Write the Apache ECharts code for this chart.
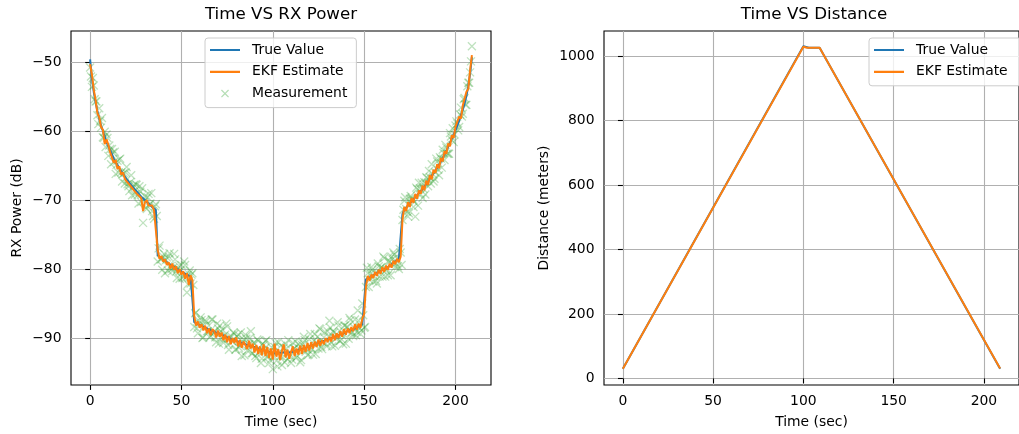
<!DOCTYPE html>
<html><head><meta charset="utf-8">
<script src="https://cdn.jsdelivr.net/npm/echarts@6/dist/echarts.min.js"></script>
<style>html,body{margin:0;padding:0;background:#fff}#c{width:1019px;height:434px}</style>
</head><body><div id="c"></div>
<script>
// ---- data ----
const time = [0,1,2,3,4,5,6,7,8,9,10,11,12,13,14,15,16,17,18,19,20,21,22,23,24,25,26,27,28,29,30,31,32,33,34,35,36,37,38,39,40,41,42,43,44,45,46,47,48,49,50,51,52,53,54,55,56,57,58,59,60,61,62,63,64,65,66,67,68,69,70,71,72,73,74,75,76,77,78,79,80,81,82,83,84,85,86,87,88,89,90,91,92,93,94,95,96,97,98,99,100,101,102,103,104,105,106,107,108,109,110,111,112,113,114,115,116,117,118,119,120,121,122,123,124,125,126,127,128,129,130,131,132,133,134,135,136,137,138,139,140,141,142,143,144,145,146,147,148,149,150,151,152,153,154,155,156,157,158,159,160,161,162,163,164,165,166,167,168,169,170,171,172,173,174,175,176,177,178,179,180,181,182,183,184,185,186,187,188,189,190,191,192,193,194,195,196,197,198,199,200,201,202,203,204,205,206,207,208,209];

const rxTrue = [-49.6,-52.4,-54.3,-55.8,-57.1,-58.2,-59.2,-60.0,-60.8,-61.6,
-62.2,-62.8,-63.4,-64.0,-64.5,-64.9,-65.4,-65.8,-66.2,-66.6,
-67.0,-67.3,-67.7,-68.0,-68.3,-68.6,-68.9,-69.2,-69.5,-69.7,
-70.0,-70.2,-70.5,-70.7,-71.0,-71.2,-71.4,-78.0,-78.2,-78.4,
-78.6,-78.8,-79.0,-79.2,-79.3,-79.5,-79.7,-79.9,-80.0,-80.2,
-80.3,-80.5,-80.7,-80.8,-81.0,-81.1,-81.2,-87.7,-87.8,-88.0,
-88.1,-88.2,-88.3,-88.5,-88.6,-88.7,-88.8,-89.0,-89.1,-89.2,
-89.3,-89.4,-89.5,-89.6,-89.8,-89.9,-90.0,-90.1,-90.2,-90.3,
-90.4,-90.5,-90.6,-90.7,-90.8,-90.9,-91.0,-91.1,-91.2,-91.2,
-91.3,-91.4,-91.5,-91.6,-91.7,-91.8,-91.9,-91.9,-92.0,-92.1,
-92.2,-92.2,-92.2,-92.2,-92.2,-92.1,-92.1,-92.1,-92.1,-92.1,
-92.1,-92.0,-91.9,-91.8,-91.7,-91.6,-91.6,-91.5,-91.4,-91.3,
-91.2,-91.1,-91.0,-90.9,-90.8,-90.7,-90.6,-90.5,-90.4,-90.3,
-90.2,-90.1,-90.0,-89.9,-89.8,-89.7,-89.6,-89.5,-89.4,-89.3,
-89.2,-89.0,-88.9,-88.8,-88.7,-88.6,-88.4,-88.3,-88.2,-88.0,
-87.9,-81.5,-81.3,-81.2,-81.1,-80.9,-80.8,-80.6,-80.5,-80.3,
-80.1,-80.0,-79.8,-79.7,-79.5,-79.3,-79.1,-78.9,-78.8,-78.6,
-78.4,-72.0,-71.4,-71.1,-70.8,-70.5,-70.2,-69.9,-69.6,-69.3,
-69.0,-68.7,-68.4,-68.0,-67.7,-67.3,-66.9,-66.5,-66.1,-65.7,
-65.3,-64.9,-64.4,-63.9,-63.4,-62.9,-62.3,-61.7,-61.1,-60.5,
-59.9,-59.2,-58.5,-57.7,-56.9,-56.0,-54.9,-53.5,-51.7,-49.3];

const rxEkf = [-50.3,-51.8,-54.0,-55.5,-57.4,-58.0,-59.4,-59.8,-61.9,-61.2,
-62.0,-63.1,-63.2,-64.6,-64.2,-65.5,-65.1,-66.3,-66.0,-66.9,
-67.3,-67.1,-67.9,-67.8,-68.6,-68.4,-69.2,-69.0,-69.7,-71.6,
-70.3,-70.0,-70.8,-71.0,-70.8,-71.5,-71.3,-77.2,-78.5,-78.1,
-78.9,-78.6,-79.4,-79.0,-79.9,-79.2,-80.1,-79.6,-80.6,-80.0,
-80.8,-80.3,-81.4,-80.6,-82.3,-80.9,-81.6,-86.8,-88.2,-87.6,
-88.5,-88.0,-88.9,-88.2,-89.3,-88.6,-89.6,-88.7,-89.0,-89.9,
-88.9,-89.8,-89.2,-90.3,-89.5,-90.6,-89.7,-90.9,-90.0,-90.7,
-89.9,-91.2,-90.3,-91.4,-90.5,-91.0,-91.6,-90.4,-91.5,-90.8,
-92.1,-91.0,-92.3,-91.2,-92.5,-90.9,-92.6,-91.3,-92.9,-91.5,
-93.1,-90.8,-92.7,-91.6,-93.2,-91.9,-90.9,-92.8,-91.7,-93.0,
-92.0,-91.2,-92.6,-91.5,-92.4,-91.1,-92.3,-91.0,-92.0,-90.7,
-91.8,-90.6,-91.5,-90.5,-91.3,-90.2,-91.1,-90.3,-90.9,-90.0,
-90.6,-89.8,-90.5,-89.4,-90.3,-89.3,-90.0,-89.0,-89.8,-88.7,
-89.5,-88.6,-89.3,-88.4,-89.0,-88.0,-88.8,-87.9,-88.5,-87.2,
-86.5,-82.5,-81.0,-81.7,-80.8,-81.3,-80.4,-81.0,-80.1,-80.7,
-79.7,-80.4,-79.5,-80.1,-79.2,-79.8,-78.8,-79.3,-78.5,-79.0,
-78.2,-72.8,-71.0,-71.6,-70.3,-71.0,-69.7,-70.4,-69.1,-69.8,
-68.6,-69.1,-67.9,-68.6,-67.2,-67.8,-66.4,-67.0,-65.6,-66.1,
-64.8,-65.4,-63.9,-64.4,-62.9,-63.3,-61.8,-62.2,-60.6,-61.0,
-59.4,-59.6,-57.9,-58.2,-56.3,-56.4,-54.3,-53.9,-51.2,-49.0];

// measurements taken on the whole seconds
const rxMeas = [-50.8,-53.6,-53.4,-55.7,-57.7,-56.7,-59.5,-60.9,-60.1,-60.5,
-63.6,-62.6,-62.6,-64.5,-66.2,-64.3,-64.1,-66.0,-66.2,-67.6,
-65.2,-68.0,-67.4,-69.3,-67.8,-67.7,-69.3,-68.0,-70.3,-73.3,
-69.4,-71.3,-69.1,-70.5,-71.6,-72.7,-70.6,-78.9,-76.6,-78.6,
-78.2,-80.6,-78.3,-78.2,-79.6,-80.3,-77.8,-80.4,-79.9,-81.4,
-79.4,-81.1,-79.4,-83.4,-80.7,-82.1,-80.6,-88.4,-86.3,-89.3,
-87.9,-87.4,-89.9,-87.4,-89.0,-88.2,-89.7,-87.3,-89.2,-90.6,
-88.6,-88.2,-90.1,-90.7,-89.5,-88.3,-91.7,-89.7,-90.5,-89.4,
-91.6,-89.5,-91.1,-92.6,-90.2,-89.5,-91.8,-90.9,-89.0,-92.2,
-90.8,-92.9,-90.4,-91.8,-93.0,-91.0,-90.4,-92.6,-93.6,-91.8,
-94.5,-91.3,-93.3,-90.6,-92.6,-93.9,-91.4,-90.9,-93.0,-92.2,
-93.6,-90.7,-91.5,-92.8,-90.9,-93.5,-91.0,-89.8,-92.0,-92.5,
-90.2,-91.4,-92.4,-89.4,-90.6,-91.5,-88.7,-91.6,-89.9,-90.8,
-89.0,-87.5,-90.7,-89.0,-91.1,-89.4,-88.2,-90.4,-89.6,-88.2,
-90.8,-88.4,-87.1,-89.2,-89.7,-87.3,-89.1,-87.5,-89.4,-85.0,
-88.5,-82.6,-80.6,-81.6,-79.7,-81.8,-80.6,-82.1,-79.6,-79.8,
-81.1,-78.4,-80.1,-80.9,-78.9,-78.2,-77.6,-79.7,-78.5,-80.0,
-77.6,-72.9,-70.1,-71.3,-72.4,-69.8,-69.8,-71.0,-72.4,-68.4,
-67.5,-69.2,-69.7,-67.4,-66.7,-68.0,-66.7,-64.8,-67.3,-66.0,
-64.4,-66.4,-64.0,-62.7,-64.2,-62.4,-63.3,-60.3,-61.3,-61.6,
-59.2,-58.9,-59.4,-56.6,-57.5,-55.2,-56.2,-53.0,-51.5,-47.7];

// measurements taken on the half seconds
const timeHalf = [0.5,1.5,2.5,3.5,4.5,5.5,6.5,7.5,8.5,9.5,10.5,11.5,12.5,13.5,14.5,15.5,16.5,17.5,18.5,19.5,20.5,21.5,22.5,23.5,24.5,25.5,26.5,27.5,28.5,29.5,30.5,31.5,32.5,33.5,34.5,35.5,36.5,37.5,38.5,39.5,40.5,41.5,42.5,43.5,44.5,45.5,46.5,47.5,48.5,49.5,50.5,51.5,52.5,53.5,54.5,55.5,56.5,57.5,58.5,59.5,60.5,61.5,62.5,63.5,64.5,65.5,66.5,67.5,68.5,69.5,70.5,71.5,72.5,73.5,74.5,75.5,76.5,77.5,78.5,79.5,80.5,81.5,82.5,83.5,84.5,85.5,86.5,87.5,88.5,89.5,90.5,91.5,92.5,93.5,94.5,95.5,96.5,97.5,98.5,99.5,100.5,101.5,102.5,103.5,104.5,105.5,106.5,107.5,108.5,109.5,110.5,111.5,112.5,113.5,114.5,115.5,116.5,117.5,118.5,119.5,120.5,121.5,122.5,123.5,124.5,125.5,126.5,127.5,128.5,129.5,130.5,131.5,132.5,133.5,134.5,135.5,136.5,137.5,138.5,139.5,140.5,141.5,142.5,143.5,144.5,145.5,146.5,147.5,148.5,149.5,150.5,151.5,152.5,153.5,154.5,155.5,156.5,157.5,158.5,159.5,160.5,161.5,162.5,163.5,164.5,165.5,166.5,167.5,168.5,169.5,170.5,171.5,172.5,173.5,174.5,175.5,176.5,177.5,178.5,179.5,180.5,181.5,182.5,183.5,184.5,185.5,186.5,187.5,188.5,189.5,190.5,191.5,192.5,193.5,194.5,195.5,196.5,197.5,198.5,199.5,200.5,201.5,202.5,203.5,204.5,205.5,206.5,207.5,208.5];

const rxMeasHalf = [-52.1,-52.3,-55.4,-55.7,-59.0,-58.5,-58.1,-61.0,-62.3,-61.0,
-62.1,-64.8,-63.1,-63.0,-64.9,-66.0,-64.0,-67.3,-66.1,-66.0,
-67.7,-68.7,-66.4,-68.1,-69.2,-67.8,-70.5,-68.8,-68.3,-70.2,
-71.1,-69.6,-70.7,-69.0,-72.3,-70.9,-72.3,-77.0,-78.6,-80.1,
-77.8,-78.7,-80.2,-77.7,-80.0,-79.8,-78.6,-81.3,-79.5,-80.2,
-81.3,-78.9,-81.2,-82.2,-80.2,-80.8,-82.3,-86.4,-88.6,-87.5,
-87.0,-90.0,-88.2,-87.6,-89.0,-89.9,-87.3,-89.1,-89.9,-87.9,
-90.8,-89.0,-88.8,-90.3,-87.9,-91.0,-89.9,-90.4,-89.2,-91.7,
-89.8,-91.4,-89.2,-90.5,-92.5,-90.1,-91.2,-90.0,-92.2,-90.7,
-92.6,-90.2,-92.1,-93.6,-90.8,-91.5,-90.3,-92.7,-93.2,-91.4,
-92.6,-90.7,-94.1,-92.0,-91.1,-92.8,-93.5,-91.5,-90.3,-92.6,
-93.1,-91.5,-90.5,-92.6,-91.5,-93.2,-90.7,-90.3,-91.6,-92.4,
-89.4,-91.6,-90.4,-92.3,-89.8,-88.6,-91.3,-90.6,-89.1,-91.2,
-89.8,-88.5,-91.2,-89.2,-90.1,-87.7,-90.4,-89.2,-90.9,-88.2,
-88.4,-90.1,-87.4,-89.2,-88.5,-89.6,-86.0,-88.5,-88.9,-86.7,
-88.4,-79.8,-82.6,-80.7,-80.1,-81.0,-81.7,-79.2,-81.1,-79.7,
-78.2,-81.1,-80.0,-78.8,-80.9,-78.6,-77.9,-79.2,-79.6,-77.1,
-79.4,-71.4,-69.6,-71.7,-71.9,-69.4,-69.8,-70.3,-68.2,-70.8,
-68.3,-67.5,-68.4,-69.2,-66.8,-65.8,-67.6,-66.2,-66.9,-64.0,
-65.6,-63.8,-65.3,-63.2,-62.0,-63.3,-63.3,-60.8,-59.6,-60.5,
-58.6,-59.9,-57.6,-57.9,-55.4,-56.2,-53.5,-53.0,-49.9];

const distTimeTrue = [0, 100, 103, 109, 209];
const distTrue     = [30, 1031, 1026, 1026, 30];
const distTimeEkf  = [0, 100, 102, 109, 209];
const distEkf      = [30, 1029, 1026, 1026, 31];

const xTicks    = [0, 50, 100, 150, 200];
const rxTicks   = [-90, -80, -70, -60, -50];
const distTicks = [0, 200, 400, 600, 800, 1000];

// ---- styling ----
const FONT = 'DejaVu Sans';
const FS = 13.9;
const C_BLUE = '#1f77b4', C_ORANGE = '#ff7f0e', C_GREEN = '#2ca02c';
const minusFmt = v => (v < 0 ? '\u2212' + Math.abs(v) : String(v));
const pairs = (xs, ys) => xs.map((x, i) => [x, ys[i]]);

function xAxisCfg(gi) {
  return {
    type: 'value', gridIndex: gi, min: -10.45, max: 219.45,
    name: 'Time (sec)', nameLocation: 'middle', nameGap: 30,
    nameTextStyle: { fontFamily: FONT, fontSize: FS, color: '#000' },
    axisLine: { show: false },
    axisTick: { show: true, customValues: xTicks, length: 4.9, lineStyle: { color: '#000', width: 1.1 } },
    axisLabel: { customValues: xTicks, margin: 9.5, fontFamily: FONT, fontSize: FS, color: '#000', formatter: minusFmt },
    splitLine: { show: true, lineStyle: { color: '#b0b0b0', width: 1.1 } }
  };
}
function yAxisCfg(gi, min, max, ticks, name, gap) {
  return {
    type: 'value', gridIndex: gi, min: min, max: max,
    name: name, nameLocation: 'middle', nameGap: gap,
    nameTextStyle: { fontFamily: FONT, fontSize: FS, color: '#000' },
    axisLine: { show: false },
    axisTick: { show: true, customValues: ticks, length: 4.9, lineStyle: { color: '#000', width: 1.1 } },
    axisLabel: { customValues: ticks, margin: 9.5, fontFamily: FONT, fontSize: FS, color: '#000', formatter: minusFmt },
    splitLine: { show: true, lineStyle: { color: '#b0b0b0', width: 1.1 } }
  };
}

const XPATH = 'path://M0,0L10,10M10,0L0,10';
// legend handles: 30x14 box defined by two invisible specks at the corners
const LINE_ICON = 'path://M0,0h0.01v0.01h-0.01zM0,6h30v2.1h-30zM29.99,13.99h0.01v0.01h-0.01z';
const X_ICON = 'path://M0,0h0.01v0.01h-0.01zM29.99,13.99h0.01v0.01h-0.01zM11,3.92L11.92,3L15,6.08L18.08,3L19,3.92L15.92,7L19,10.08L18.08,11L15,7.92L11.92,11L11,10.08L14.08,7z';

const legendBase = {
  orient: 'vertical', top: 38, itemWidth: 30, itemHeight: 14, itemGap: 7.8,
  padding: [5, 9, 7, 5],
  backgroundColor: 'rgba(255,255,255,0.8)', borderColor: '#cccccc', borderWidth: 1, borderRadius: 3,
  textStyle: { fontFamily: FONT, fontSize: FS, color: '#000', padding: [0, 0, 0, 7] },
  selectedMode: false
};
const lineItem = (name, color) => ({ name: name, icon: LINE_ICON, itemStyle: { color: color, borderWidth: 0, opacity: 1 } });

const chart = echarts.init(document.getElementById('c'), null, { renderer: 'canvas' });
chart.setOption({
  animation: false,
  backgroundColor: '#fff',
  graphic: [
    { type: 'text', x: 281, y: 15, style: { text: 'Time VS RX Power', font: '16.7px "DejaVu Sans"', fill: '#000', align: 'center', verticalAlign: 'middle' } },
    { type: 'text', x: 814, y: 15, style: { text: 'Time VS Distance', font: '16.7px "DejaVu Sans"', fill: '#000', align: 'center', verticalAlign: 'middle' } }
  ],
  grid: [
    { left: 71, top: 31, width: 420, height: 355, show: true, borderColor: '#000', borderWidth: 1.1, backgroundColor: 'transparent' },
    { left: 604, top: 31, width: 420.6, height: 355, show: true, borderColor: '#000', borderWidth: 1.1, backgroundColor: 'transparent' }
  ],
  xAxis: [xAxisCfg(0), xAxisCfg(1)],
  yAxis: [
    yAxisCfg(0, -96.8, -45.5, rxTicks, 'RX Power (dB)', 47),
    yAxisCfg(1, -20.5, 1078, distTicks, 'Distance (meters)', 53)
  ],
  legend: [
    Object.assign({}, legendBase, { left: 205, data: [
      lineItem('True Value', C_BLUE),
      lineItem('EKF Estimate', C_ORANGE),
      { name: 'Measurement', icon: X_ICON, itemStyle: { color: C_GREEN, borderWidth: 0, opacity: 0.35 } }
    ] }),
    Object.assign({}, legendBase, { left: 869, data: [
      lineItem('True Value ', C_BLUE),
      lineItem('EKF Estimate ', C_ORANGE)
    ] })
  ],
  series: [
    { name: 'True Value', type: 'line', xAxisIndex: 0, yAxisIndex: 0, symbol: 'none', data: pairs(time, rxTrue),
      lineStyle: { color: C_BLUE, width: 2 }, itemStyle: { color: C_BLUE } },
    { name: 'EKF Estimate', type: 'line', xAxisIndex: 0, yAxisIndex: 0, symbol: 'none', data: pairs(time, rxEkf),
      lineStyle: { color: C_ORANGE, width: 2 }, itemStyle: { color: C_ORANGE } },
    { name: 'Measurement', type: 'scatter', xAxisIndex: 0, yAxisIndex: 0, symbol: XPATH, symbolSize: 8,
      data: pairs(time, rxMeas).concat(pairs(timeHalf, rxMeasHalf)),
      itemStyle: { color: C_GREEN, borderColor: C_GREEN, borderWidth: 1.3, opacity: 0.3 } },
    { name: 'True Value ', type: 'line', xAxisIndex: 1, yAxisIndex: 1, symbol: 'none', data: pairs(distTimeTrue, distTrue),
      lineStyle: { color: C_BLUE, width: 2 }, itemStyle: { color: C_BLUE } },
    { name: 'EKF Estimate ', type: 'line', xAxisIndex: 1, yAxisIndex: 1, symbol: 'none', data: pairs(distTimeEkf, distEkf),
      lineStyle: { color: C_ORANGE, width: 2 }, itemStyle: { color: C_ORANGE } }
  ]
});
</script>
</body></html>
